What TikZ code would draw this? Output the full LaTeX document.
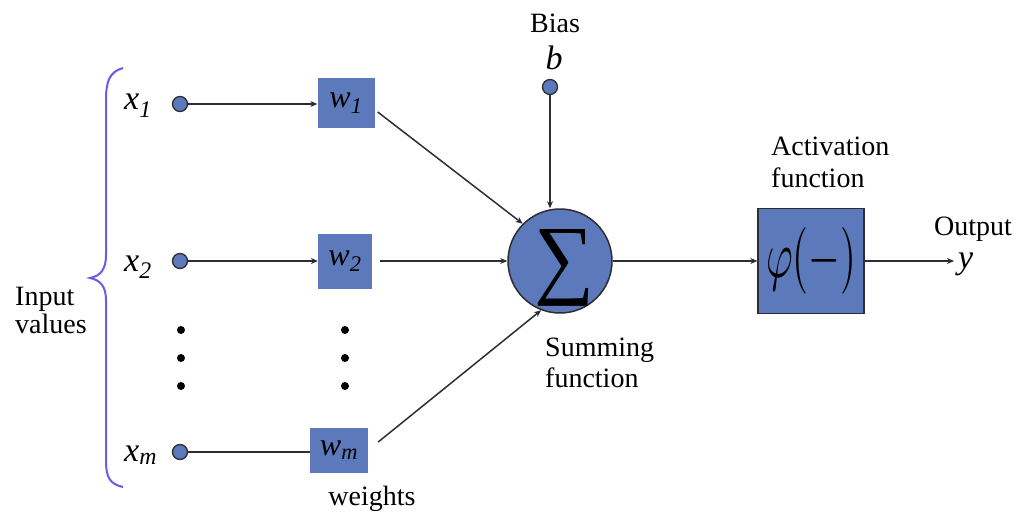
\documentclass[tikz,border=0pt]{standalone}
\usepackage{fontspec}
\usepackage{graphicx}
\setmainfont{Liberation Serif}
\usetikzlibrary{arrows.meta,calc}
\definecolor{nodeblue}{RGB}{92,122,187}
\definecolor{edgecol}{RGB}{45,45,50}
\definecolor{bracecol}{RGB}{110,90,230}
\begin{document}
\begin{tikzpicture}[x=1pt,y=-1pt,
  lbl/.style={font=\fontsize{28}{32}\selectfont, inner sep=0pt, anchor=base west},
  mlbl/.style={font=\fontsize{34}{36}\selectfont\itshape, inner sep=0pt, anchor=base west},
  wbox/.style={fill=nodeblue, inner sep=0pt, font=\fontsize{32}{34}\selectfont\itshape},
  dotin/.style={circle, fill=nodeblue, draw=edgecol, line width=1.3pt, minimum size=15pt, inner sep=0pt},
  conn/.style={draw=edgecol, line width=1.5pt},
  arr/.style={conn, -{Stealth[length=7pt,width=6pt]}},
  blackdot/.style={circle, fill=black, minimum size=8pt, inner sep=0pt}]
\useasboundingbox (0,0) rectangle (1018,519);

% brace
\draw[bracecol, line width=2pt] (123,68) .. controls (109,72) and (106,82) .. (106,100)
  -- (106,255) .. controls (106,270) and (100,276) .. (90,278)
  .. controls (100,280) and (106,286) .. (106,300)
  -- (106,460) .. controls (106,478) and (110,484) .. (123,487);
\node[lbl] (inp) at (15,305) {Input};
\node[lbl] (val) at (15,333) {values};

% inputs
\node[mlbl] (x1l) at (124,110) {x\textsubscript{1}};
\node[mlbl] (x2l) at (124,271) {x\textsubscript{2}};
\node[mlbl] (xml) at (124,461) {x\textsubscript{m}};
\node[dotin] (c1) at (180,104) {};
\node[dotin] (c2) at (180,261) {};
\node[dotin] (cm) at (180,452) {};

% weights
\node[wbox, minimum width=57pt, minimum height=50pt] (w1) at (346,103) {w\textsubscript{1}};
\node[wbox, minimum width=54pt, minimum height=55pt] (w2) at (345,261) {w\textsubscript{2}};
\node[wbox, minimum width=58pt, minimum height=45pt] (wm) at (339,450) {w\textsubscript{m}};
\node[lbl, anchor=base] (wts) at (372,505) {weights};

% dots
\foreach \yy [count=\i] in {330,358,386} {
  \node[blackdot] (dl\i) at (181,\yy) {};
  \node[blackdot] (dr\i) at (345,\yy) {};
}

% summing node
\node[circle, fill=nodeblue, draw=edgecol, line width=1.5pt, minimum size=104pt, inner sep=0pt] (sum) at (560,261) {};
\node[inner sep=0pt] (sigma) at (564,268) {\resizebox{60pt}{58pt}{∑}};
\node[lbl] (summ) at (545,356) {Summing};
\node[lbl] (sumf) at (545,387) {function};

% bias
\node[lbl, anchor=base] (biastxt) at (555,33) {Bias};
\node[mlbl, anchor=base] (btxt) at (554,70) {b};
\node[dotin] (bias) at (550,87) {};

% activation
\node[draw=edgecol, fill=nodeblue, line width=1.3pt, minimum width=106pt, minimum height=105pt, inner sep=0pt] (act) at (811,261) {\resizebox{90pt}{50pt}{$\varphi(-)$}};
\node[lbl] (acttxt) at (771,155) {Activation};
\node[lbl] (actf) at (771,187) {function};

% output
\coordinate (out) at (954,261);
\node[lbl] (outtxt) at (934,235) {Output};
\node[mlbl] (ytxt) at (958,268) {y};

% connectors
\draw[arr] (c1) -- (c1 -| w1.west);
\draw[arr] (c2) -- (c2 -| w2.west);
\draw[conn] (cm) -- (cm -| wm.west);
\draw[arr] ($(w1.east)+(3,9)$) -- (sum.135);
\draw[arr] ($(w2.east)+(8,0)$) -- (sum.west);
\draw[arr] ($(wm.east)+(10,-8)$) -- (sum.249);
\draw[arr] (bias) -- (bias |- sum.north);
\draw[arr] (sum.east) -- (act.west);
\draw[arr] (act.east) -- (out);
\end{tikzpicture}
\end{document}
